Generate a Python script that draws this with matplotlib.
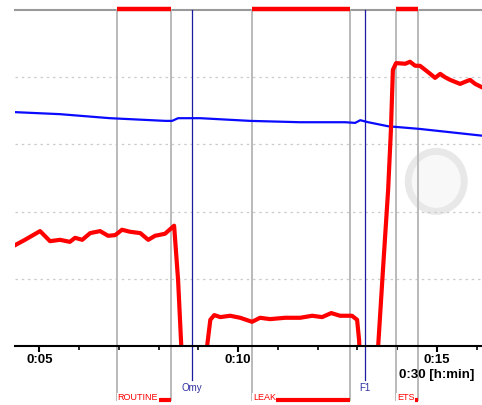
import matplotlib
matplotlib.use("Agg")
import matplotlib.pyplot as plt
from matplotlib.ticker import MultipleLocator, FuncFormatter
from matplotlib.patches import Ellipse

# time axis in minutes
red_t = [4.39, 4.64, 5.02, 5.27, 5.52, 5.77, 5.90, 6.08, 6.28, 6.53, 6.73, 6.91,
         7.08, 7.28, 7.54, 7.74, 7.91, 8.16, 8.39, 8.49, 8.57, 8.64, 9.17, 9.22,
         9.30, 9.40, 9.55, 9.80, 10.05, 10.35, 10.55, 10.80, 11.18, 11.56, 11.86,
         12.11, 12.34, 12.56, 12.86, 12.99, 13.04, 13.07, 13.47, 13.52, 13.64,
         13.77, 13.84, 13.89, 13.97, 14.20, 14.32, 14.45, 14.57, 14.70, 14.87,
         14.95, 15.08, 15.20, 15.33, 15.58, 15.70, 15.83, 15.96, 16.13]
red_v = [1.50, 1.58, 1.71, 1.56, 1.58, 1.55, 1.61, 1.58, 1.68, 1.71, 1.64, 1.65,
         1.73, 1.70, 1.68, 1.58, 1.64, 1.67, 1.79, 0.98, 0.00, -0.36, -0.36, 0.00,
         0.39, 0.46, 0.43, 0.45, 0.42, 0.36, 0.42, 0.40, 0.42, 0.42, 0.45,
         0.43, 0.49, 0.45, 0.45, 0.39, 0.09, -0.36, -0.36, 0.00, 1.13,
         2.32, 3.21, 4.11, 4.21, 4.20, 4.23, 4.17, 4.17, 4.11, 4.03,
         3.99, 4.05, 4.00, 3.96, 3.90, 3.93, 3.96, 3.90, 3.85]

blue_t = [4.39, 5.52, 6.78, 8.17, 8.34, 8.49, 9.05, 10.30, 11.56, 12.69, 12.94,
          13.07, 13.27, 13.77, 14.57, 16.13]
blue_v = [3.48, 3.45, 3.39, 3.35, 3.35, 3.39, 3.39, 3.35, 3.33, 3.33, 3.32,
          3.36, 3.33, 3.27, 3.23, 3.13]

# phase events: name, start, end
phase_names = ["ROUTINE", "LEAK", "ETS"]
phase_start = [6.95, 10.35, 13.97]
phase_end = [8.31, 12.81, 14.52]

# marker events
marker_names = ["Omy", "F1"]
marker_t = [8.84, 13.19]

x_min, x_max = 4.39, 16.13

fig = plt.figure(figsize=(4.82, 4.05), dpi=100)
ax = fig.add_axes([15 / 482, 59 / 405, 467 / 482, 336 / 405])
ax.set_xlim(x_min, x_max)
ax.set_ylim(0, 5)

font = "Liberation Sans"

# dotted grid + top line
for g in [1, 2, 3, 4]:
    ax.axhline(g, color="#cccccc", lw=0.9, ls=(0, (2, 3)), zorder=1)
ax.axhline(5, color="#999999", lw=1.5, zorder=2, clip_on=False)

# faint watermark logo
ax.add_patch(Ellipse((0.902, 0.49), 56 / 467, 60 / 336, transform=ax.transAxes,
                     fc="#f8f8f8", ec="#e8e8e8", lw=5, zorder=0))

# phase lines, bars and labels
for name, s, e in zip(phase_names, phase_start, phase_end):
    for t in (s, e):
        ax.plot([t, t], [5, -0.8], color="#bababa", lw=1.4, clip_on=False, zorder=2)
    ax.plot([s, e], [5.02, 5.02], color="red", lw=3.2, solid_capstyle="butt",
            clip_on=False, zorder=5)
    ax.plot([s, e], [-0.81, -0.81], color="red", lw=3, solid_capstyle="butt",
            clip_on=False, zorder=5)
    ax.text(s + 0.02, -0.77, name, color="red", fontsize=6.5, family=font,
            ha="left", va="center", zorder=6,
            bbox=dict(facecolor="white", edgecolor="none", pad=0.3))

for name, t in zip(marker_names, marker_t):
    ax.plot([t, t], [5, -0.5], color="#1c1ca0", lw=0.9, clip_on=False, zorder=3)
    ax.text(t, -0.63, name, color="#3030a0", fontsize=7, family=font,
            ha="center", va="center")

# series
ax.plot(blue_t, blue_v, color="#0a0aff", lw=1.6, zorder=4)
ax.plot(red_t, red_v, color="red", lw=3, zorder=4, solid_joinstyle="round")

# axes styling
for side in ["left", "right", "top"]:
    ax.spines[side].set_visible(False)
ax.spines["bottom"].set_linewidth(1.5)
ax.spines["bottom"].set_zorder(6)
ax.set_yticks([])
ax.xaxis.set_major_locator(MultipleLocator(5))
ax.xaxis.set_minor_locator(MultipleLocator(1))
ax.xaxis.set_major_formatter(FuncFormatter(lambda v, p: "0:%02d" % round(v)))
ax.tick_params(axis="x", which="major", length=4, width=1.5, pad=1.5)
ax.tick_params(axis="x", which="minor", length=3, width=1.2)
for lbl in ax.get_xticklabels():
    lbl.set_fontfamily(font)
    lbl.set_fontweight("bold")
    lbl.set_fontsize(9.5)

ax.text(0.983, -0.086, "0:30 [h:min]", transform=ax.transAxes, ha="right", va="center",
        fontsize=9.5, fontweight="bold", family=font)

fig.savefig("out.png", dpi=100)
